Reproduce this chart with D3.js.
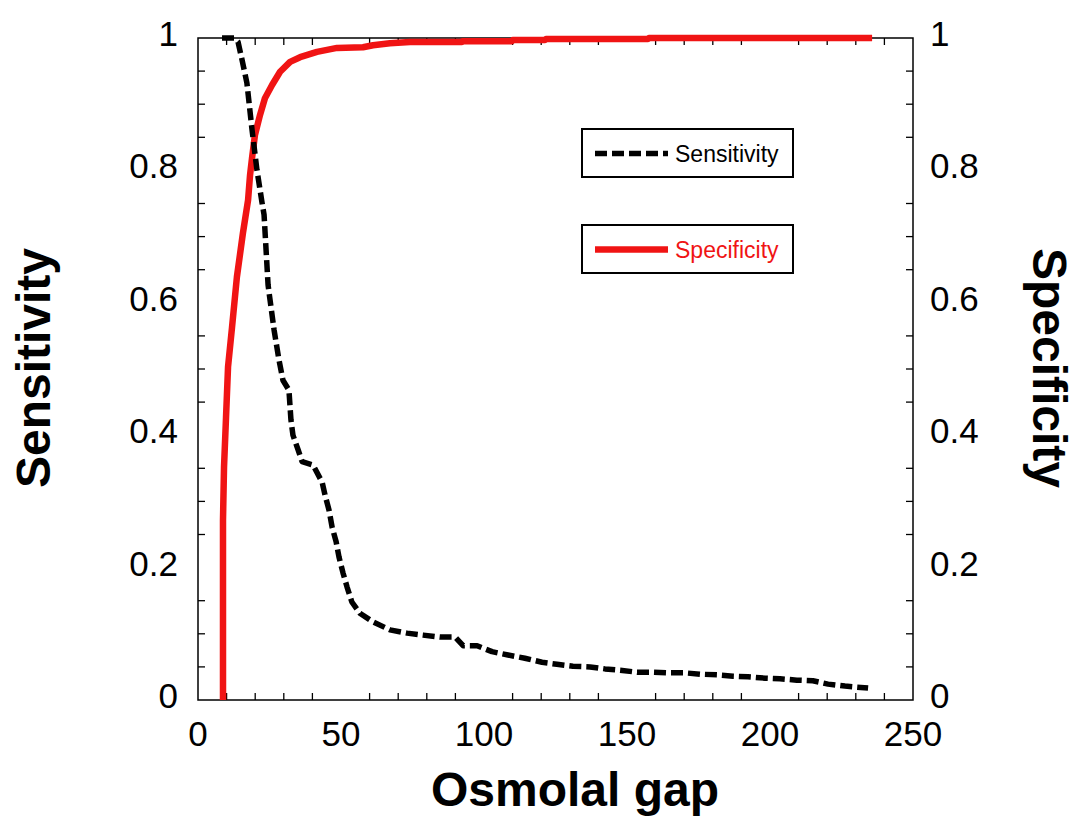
<!DOCTYPE html>
<html>
<head>
<meta charset="utf-8">
<script src="https://cdn.jsdelivr.net/npm/d3@7"></script>
<style>
  html, body { margin: 0; padding: 0; background: #fff; }
  svg { display: block; font-family: Arial, "Liberation Sans", sans-serif; }
</style>
</head>
<body>
<svg id="chart" width="1080" height="829"></svg>
<script>
// ---- data ----
const sensGap = [8.4, 12.6, 14.0, 15.4, 17.1, 18.9, 20.6, 22.4, 23.1, 23.8, 24.5, 25.2, 26.6, 28.3, 29.7, 31.8, 32.5, 33.2, 35.0, 36.4, 40.2, 43.4, 44.4, 45.8, 46.9, 48.3, 49.3, 50.7, 52.1, 53.8, 56.6, 61.2, 67.1, 73.1, 78.7, 84.6, 89.9, 92.7, 97.6, 102.8, 108.4, 114.3, 120.3, 125.5, 131.1, 137.1, 142.3, 147.6, 153.5, 159.1, 164.3, 170.3, 175.5, 181.5, 187.1, 192.3, 198.3, 203.5, 209.4, 215.0, 220.3, 226.2, 234.3];
const sensitivity = [1.0, 1.0, 0.994, 0.967, 0.932, 0.861, 0.801, 0.751, 0.733, 0.680, 0.627, 0.604, 0.559, 0.514, 0.483, 0.468, 0.423, 0.400, 0.378, 0.360, 0.355, 0.329, 0.310, 0.287, 0.261, 0.239, 0.216, 0.192, 0.171, 0.148, 0.131, 0.118, 0.106, 0.101, 0.098, 0.095, 0.095, 0.082, 0.082, 0.073, 0.068, 0.063, 0.057, 0.054, 0.051, 0.050, 0.047, 0.045, 0.042, 0.042, 0.041, 0.041, 0.039, 0.038, 0.036, 0.035, 0.033, 0.032, 0.030, 0.029, 0.024, 0.021, 0.018];

const specGap = [8.74, 8.74, 9.1, 9.8, 10.5, 11.9, 13.6, 15.7, 17.5, 18.2, 18.9, 19.9, 21.7, 23.4, 25.9, 28.7, 32.2, 35.7, 41.6, 48.6, 57.7, 61.2, 67.1, 74.1, 92.3, 92.4, 109.8, 110.1, 121.3, 121.7, 157.3, 157.7, 235.7];
const specificity = [0.0, 0.272, 0.352, 0.427, 0.503, 0.563, 0.639, 0.705, 0.755, 0.793, 0.819, 0.853, 0.884, 0.909, 0.929, 0.949, 0.964, 0.971, 0.979, 0.985, 0.986, 0.989, 0.992, 0.994, 0.994, 0.995, 0.995, 0.997, 0.997, 0.9985, 0.9985, 1.0, 1.0];

const xTickLabels = [0, 50, 100, 150, 200, 250];
const yTickLabels = [0, 0.2, 0.4, 0.6, 0.8, 1];
const xMinorTicks = d3.range(0, 251, 10).filter(v => v % 50 !== 0);
const yMinorTicks = d3.range(0, 21).map(i => i * 0.05).filter(v => Math.abs(v / 0.2 - Math.round(v / 0.2)) > 1e-6);

const seriesNames = ["Sensitivity", "Specificity"];
const xTitle = "Osmolal gap";

// ---- layout ----
const svg = d3.select("#chart");
const L = 198, R = 913, T = 38, B = 700;
const x = d3.scaleLinear().domain([0, 250]).range([L, R]);
const y = d3.scaleLinear().domain([0, 1]).range([B, T]);

const red = "#f01414";
const tickLen = 7;

// minor inward ticks
const g = svg.append("g").attr("stroke", "#000").attr("stroke-width", 1.3);
xMinorTicks.forEach(v => {
  g.append("line").attr("x1", x(v)).attr("x2", x(v)).attr("y1", B).attr("y2", B - tickLen);
  g.append("line").attr("x1", x(v)).attr("x2", x(v)).attr("y1", T).attr("y2", T + tickLen);
});
yMinorTicks.forEach(v => {
  g.append("line").attr("x1", L).attr("x2", L + tickLen).attr("y1", y(v)).attr("y2", y(v));
  g.append("line").attr("x1", R).attr("x2", R - tickLen).attr("y1", y(v)).attr("y2", y(v));
});

// frame
svg.append("rect").attr("x", L).attr("y", T).attr("width", R - L).attr("height", B - T)
  .attr("fill", "none").attr("stroke", "#000").attr("stroke-width", 1.5);

// tick labels
const tickFont = 35;
svg.append("g").selectAll("text").data(xTickLabels).join("text")
  .attr("x", d => x(d)).attr("y", 746)
  .attr("text-anchor", "middle").attr("font-size", tickFont).attr("fill", "#000")
  .text(d => d);
svg.append("g").selectAll("text").data(yTickLabels).join("text")
  .attr("x", 178).attr("y", d => y(d) + 8)
  .attr("text-anchor", "end").attr("font-size", tickFont).attr("fill", "#000")
  .text(d => d);
svg.append("g").selectAll("text").data(yTickLabels).join("text")
  .attr("x", 930).attr("y", d => y(d) + 8)
  .attr("text-anchor", "start").attr("font-size", tickFont).attr("fill", "#000")
  .text(d => d);

// axis titles
svg.append("text").attr("x", 575).attr("y", 806).attr("text-anchor", "middle")
  .attr("font-size", 48).attr("font-weight", "bold").text(xTitle);
svg.append("text").attr("transform", "translate(50,368) rotate(-90)").attr("text-anchor", "middle")
  .attr("font-size", 48).attr("font-weight", "bold").text(seriesNames[0]);
svg.append("text").attr("transform", "translate(1033,368) rotate(90)").attr("text-anchor", "middle")
  .attr("font-size", 48).attr("font-weight", "bold").text(seriesNames[1]);

// lines
const line = d3.line().x(d => x(d[0])).y(d => y(d[1]));
const sensData = sensGap.map((v, i) => [v, sensitivity[i]]);
const specData = specGap.map((v, i) => [v, specificity[i]]);

svg.append("path").datum(specData).attr("d", line)
  .attr("fill", "none").attr("stroke", red).attr("stroke-width", 6.5)
  .attr("stroke-linejoin", "round");
svg.append("path").datum(sensData).attr("d", line)
  .attr("fill", "none").attr("stroke", "#000").attr("stroke-width", 5.5)
  .attr("stroke-dasharray", "12,5").attr("stroke-linejoin", "round");

// legend
const legend = [
  { name: seriesNames[0], y0: 129, color: "#000", dash: "12,5", w: 5.5, textColor: "#000" },
  { name: seriesNames[1], y0: 225, color: red, dash: null, w: 6.5, textColor: red }
];
legend.forEach(item => {
  const lg = svg.append("g");
  lg.append("rect").attr("x", 582).attr("y", item.y0).attr("width", 211).attr("height", 48)
    .attr("fill", "#fff").attr("stroke", "#000").attr("stroke-width", 2);
  lg.append("line").attr("x1", 595).attr("x2", 668).attr("y1", item.y0 + 24.5).attr("y2", item.y0 + 24.5)
    .attr("stroke", item.color).attr("stroke-width", item.w)
    .attr("stroke-dasharray", item.dash);
  lg.append("text").attr("x", 675).attr("y", item.y0 + 32.5).attr("font-size", 23)
    .attr("fill", item.textColor).text(item.name);
});
</script>
</body>
</html>
